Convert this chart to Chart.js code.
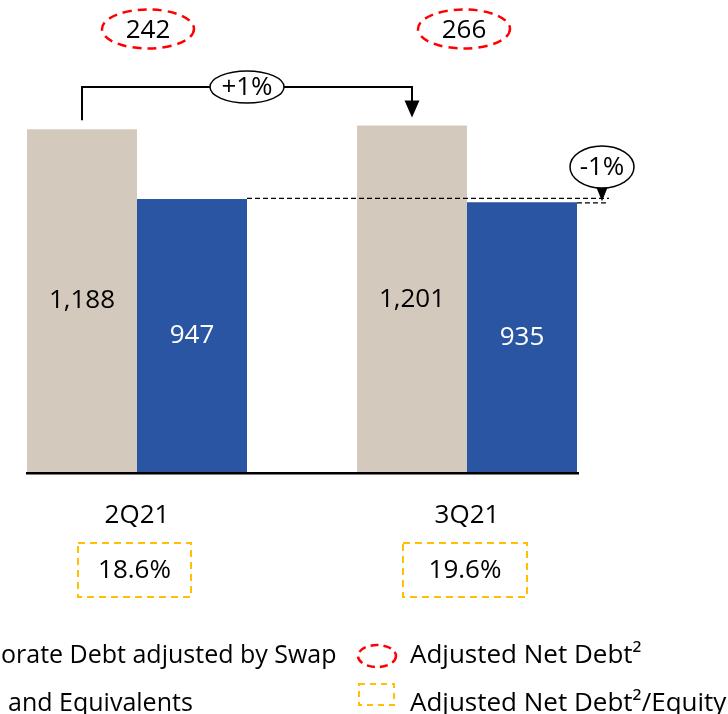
<!DOCTYPE html>
<html>
<head>
<meta charset="utf-8">
<script src="https://cdn.jsdelivr.net/npm/chart.js@4"></script>
<style>
  html, body { margin: 0; padding: 0; background: #fff; overflow: hidden; width: 728px; height: 714px; }
  #wrap { position: absolute; left: -40px; top: 0; width: 768px; height: 714px; }
</style>
</head>
<body>
<div id="wrap"><canvas id="c"></canvas></div>
<script>
const categories = ['2Q21', '3Q21'];
const corporateDebt = [1188, 1201];
const cashEquivalents = [947, 935];
const adjustedNetDebt = [242, 266];
const netDebtToEquity = [18.6, 19.6];
const seriesNames = ['Corporate Debt adjusted by Swap', 'Cash and Equivalents'];
const extraLegend = ['Adjusted Net Debt²', 'Adjusted Net Debt²/Equity'];

const FONT = '"Open Sans", sans-serif';
const FS = 26;
const OFF = 40; // canvas x offset vs page
const BEIGE = '#D4C9BD';
const BLUE = '#2A55A3';

function fmt(v) { return v.toLocaleString('en-US'); }
function pct(a, b) { const p = Math.round((b / a - 1) * 100); return (p > 0 ? '+' : '') + p + '%'; }

function ellipse(ctx, cx, cy, rx, ry) {
  ctx.beginPath();
  ctx.ellipse(cx, cy, rx, ry, 0, 0, Math.PI * 2);
}

const annot = {
  id: 'annot',
  afterDatasetsDraw(chart) {
    const ctx = chart.ctx;
    const xs = chart.scales.x;
    const m0 = chart.getDatasetMeta(0).data;
    const m1 = chart.getDatasetMeta(1).data;
    ctx.save();
    ctx.font = FS + 'px ' + FONT;
    ctx.textAlign = 'center';
    ctx.textBaseline = 'middle';
    // value labels
    m0.forEach((b, i) => { ctx.fillStyle = '#000'; ctx.fillText(fmt(corporateDebt[i]), b.x, (b.y + b.base) / 2); });
    m1.forEach((b, i) => { ctx.fillStyle = '#fff'; ctx.fillText(fmt(cashEquivalents[i]), b.x, (b.y + b.base) / 2); });

    // baseline
    const w = m0[0].width;
    ctx.strokeStyle = '#000';
    ctx.lineWidth = 2.5;
    ctx.beginPath();
    ctx.moveTo(m0[0].x - w / 2 - 1, m0[0].base + 0.5);
    ctx.lineTo(m1[1].x + w / 2 + 2, m0[0].base + 0.5);
    ctx.stroke();

    // +1% connector arrow
    const yTop = 87;
    ctx.lineWidth = 2;
    ctx.beginPath();
    ctx.moveTo(m0[0].x, m0[0].y - 9);
    ctx.lineTo(m0[0].x, yTop);
    ctx.lineTo(m0[1].x, yTop);
    ctx.lineTo(m0[1].x, m0[1].y - 24);
    ctx.stroke();
    ctx.fillStyle = '#000';
    ctx.beginPath();
    ctx.moveTo(m0[1].x - 7.5, m0[1].y - 25);
    ctx.lineTo(m0[1].x + 7.5, m0[1].y - 25);
    ctx.lineTo(m0[1].x, m0[1].y - 8);
    ctx.closePath();
    ctx.fill();
    const mx = (m0[0].x + m0[1].x) / 2;
    ellipse(ctx, mx, yTop, 37, 16);
    ctx.fillStyle = '#fff'; ctx.fill();
    ctx.lineWidth = 1.5; ctx.stroke();
    ctx.fillStyle = '#000';
    ctx.fillText(pct(corporateDebt[0], corporateDebt[1]), mx, yTop + 1);

    // -1% dashed reference lines
    const xEnd = m1[1].x + w / 2 + 32;
    ctx.setLineDash([5, 3]);
    ctx.lineWidth = 1.2;
    ctx.beginPath();
    ctx.moveTo(m1[0].x + w / 2, m1[0].y - 0.5);
    ctx.lineTo(xEnd, m1[0].y - 0.5);
    ctx.moveTo(m1[1].x + w / 2, m1[1].y + 0.5);
    ctx.lineTo(xEnd, m1[1].y + 0.5);
    ctx.stroke();
    ctx.setLineDash([]);
    // callout
    const cx = xEnd - 7, cy = 167;
    ctx.fillStyle = '#000';
    ctx.beginPath();
    ctx.moveTo(cx - 7, cy + 17);
    ctx.lineTo(cx + 7, cy + 17);
    ctx.lineTo(cx, m1[1].y - 1);
    ctx.closePath();
    ctx.fill();
    ellipse(ctx, cx, cy, 32, 21);
    ctx.fillStyle = '#fff'; ctx.fill();
    ctx.lineWidth = 1.5; ctx.strokeStyle = '#000'; ctx.stroke();
    ctx.fillStyle = '#000';
    ctx.fillText(pct(cashEquivalents[0], cashEquivalents[1]), cx, cy + 1);

    // Adjusted net debt ellipses
    const ellDx = [11, -3];
    adjustedNetDebt.forEach((v, i) => {
      const ex = xs.getPixelForValue(i) + ellDx[i];
      ctx.setLineDash([9, 6]);
      ctx.strokeStyle = '#FF0000';
      ctx.lineWidth = 2.5;
      ellipse(ctx, ex, 29, 46, 19.5);
      ctx.stroke();
      ctx.setLineDash([]);
      ctx.fillStyle = '#000';
      ctx.fillText(String(v), ex, 31);
    });

    // Net debt / equity boxes
    const boxDx = [-2.5, -2];
    const boxW = [113, 124];
    netDebtToEquity.forEach((v, i) => {
      const bx = xs.getPixelForValue(i) + boxDx[i];
      ctx.setLineDash([7, 5]);
      ctx.strokeStyle = '#FFC000';
      ctx.lineWidth = 2;
      ctx.strokeRect(bx - boxW[i] / 2, 543, boxW[i], 54);
      ctx.setLineDash([]);
      ctx.fillStyle = '#000';
      ctx.fillText(v.toFixed(1) + '%', bx, 571);
    });

    // Legend
    ctx.textAlign = 'left';
    ctx.textBaseline = 'alphabetic';
    ctx.font = '25px ' + FONT;
    const lx = OFF - ctx.measureText('Corp').width + 1;
    ctx.fillStyle = BEIGE; ctx.fillRect(lx - 40, 643, 22, 22);
    ctx.fillStyle = BLUE; ctx.fillRect(lx - 40, 691, 22, 22);
    ctx.fillStyle = '#000';
    ctx.fillText(seriesNames[0], lx, 663);
    ctx.fillText(seriesNames[1], lx, 711);
    // right column
    ctx.font = FS + 'px ' + FONT;
    ctx.setLineDash([8, 5]);
    ctx.strokeStyle = '#FF0000'; ctx.lineWidth = 2.5;
    ellipse(ctx, OFF + 377, 656, 19, 11);
    ctx.stroke();
    ctx.setLineDash([6, 5]);
    ctx.strokeStyle = '#FFC000'; ctx.lineWidth = 2;
    ctx.strokeRect(OFF + 359, 684, 35, 21);
    ctx.setLineDash([]);
    ctx.fillStyle = '#000';
    ctx.fillText(extraLegend[0], OFF + 410, 663);
    ctx.fillText(extraLegend[1], OFF + 410, 711);
    ctx.restore();
  }
};

new Chart(document.getElementById('c'), {
  type: 'bar',
  data: {
    labels: categories,
    datasets: [
      { label: seriesNames[0], data: corporateDebt, backgroundColor: BEIGE, borderWidth: 0 },
      { label: seriesNames[1], data: cashEquivalents, backgroundColor: BLUE, borderWidth: 0 }
    ]
  },
  options: {
    responsive: true,
    maintainAspectRatio: false,
    animation: false,
    layout: { padding: { left: 12, right: 96, top: 10, bottom: 156 } },
    datasets: { bar: { categoryPercentage: 220 / 330, barPercentage: 1.0 } },
    plugins: { legend: { display: false }, tooltip: { enabled: false }, title: { display: false } },
    scales: {
      x: {
        grid: { display: false, drawTicks: false },
        border: { display: false },
        ticks: { color: '#000', font: { family: FONT, size: FS }, padding: 27 }
      },
      y: {
        display: false,
        min: 0,
        max: 1600
      }
    }
  },
  plugins: [annot]
});
</script>
</body>
</html>
